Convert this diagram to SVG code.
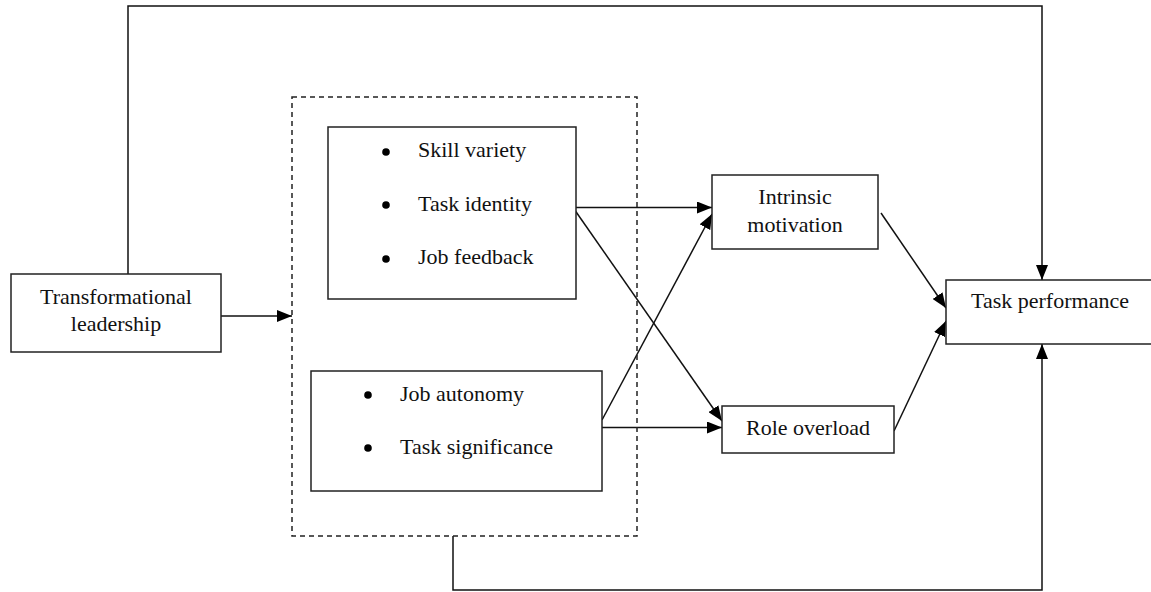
<svg xmlns="http://www.w3.org/2000/svg" width="1151" height="592" viewBox="0 0 1151 592">
<style>
.box{fill:#fff;stroke:#222;stroke-width:1.5}
.dash{fill:none;stroke:#222;stroke-width:1.5;stroke-dasharray:5,4}
.ln{fill:none;stroke:#111;stroke-width:1.5}
.t{font-family:"Liberation Serif","Times New Roman",serif;font-size:22px;fill:#111}
.c{text-anchor:middle}
.dot{fill:#000}
</style>
<defs>
<marker id="ah" markerWidth="15" markerHeight="12" refX="15" refY="6" orient="auto" markerUnits="userSpaceOnUse">
<path d="M0,0 L15,6 L0,12 Z" fill="#000"/>
</marker>
</defs>
<rect width="1151" height="592" fill="#fff"/>
<g id="connectors">
<path class="ln" d="M128,274 V6 H1042 V280" marker-end="url(#ah)"/>
<path class="ln" d="M453,536 V590 H1042 V344" marker-end="url(#ah)"/>
<path class="ln" d="M221,316 H292" marker-end="url(#ah)"/>
<path class="ln" d="M573,207.5 H712" marker-end="url(#ah)"/>
<path class="ln" d="M573,207.5 L722,421" marker-end="url(#ah)"/>
<path class="ln" d="M602,420 L712,214" marker-end="url(#ah)"/>
<path class="ln" d="M602,427.5 H722" marker-end="url(#ah)"/>
<path class="ln" d="M881,213 L946,308" marker-end="url(#ah)"/>
<path class="ln" d="M894,431 L946,321" marker-end="url(#ah)"/>
</g>
<g id="job-characteristics">
<rect class="dash" x="292" y="97" width="345" height="439"/>
</g>
<g id="transformational-leadership">
<rect class="box" x="11" y="274" width="210" height="78"/>
<text class="t c" x="116" y="304">Transformational</text>
<text class="t c" x="116" y="331">leadership</text>
</g>
<g id="group-a">
<rect class="box" x="328" y="127" width="248" height="172"/>
<circle class="dot" cx="386" cy="152" r="3.8"/>
<circle class="dot" cx="386" cy="205" r="3.8"/>
<circle class="dot" cx="386" cy="259" r="3.8"/>
<text class="t" x="418" y="157">Skill variety</text>
<text class="t" x="418" y="211">Task identity</text>
<text class="t" x="418" y="264">Job feedback</text>
</g>
<g id="group-b">
<rect class="box" x="311" y="371" width="291" height="120"/>
<circle class="dot" cx="368" cy="395" r="3.8"/>
<circle class="dot" cx="368" cy="448" r="3.8"/>
<text class="t" x="400" y="401">Job autonomy</text>
<text class="t" x="400" y="454">Task significance</text>
</g>
<g id="intrinsic-motivation">
<rect class="box" x="712" y="175" width="166" height="74"/>
<text class="t c" x="795" y="204">Intrinsic</text>
<text class="t c" x="795" y="232">motivation</text>
</g>
<g id="role-overload">
<rect class="box" x="722" y="406" width="172" height="47"/>
<text class="t c" x="808" y="435">Role overload</text>
</g>
<g id="task-performance">
<rect class="box" x="946" y="280" width="210" height="64"/>
<text class="t c" x="1050" y="308">Task performance</text>
</g>
</svg>
